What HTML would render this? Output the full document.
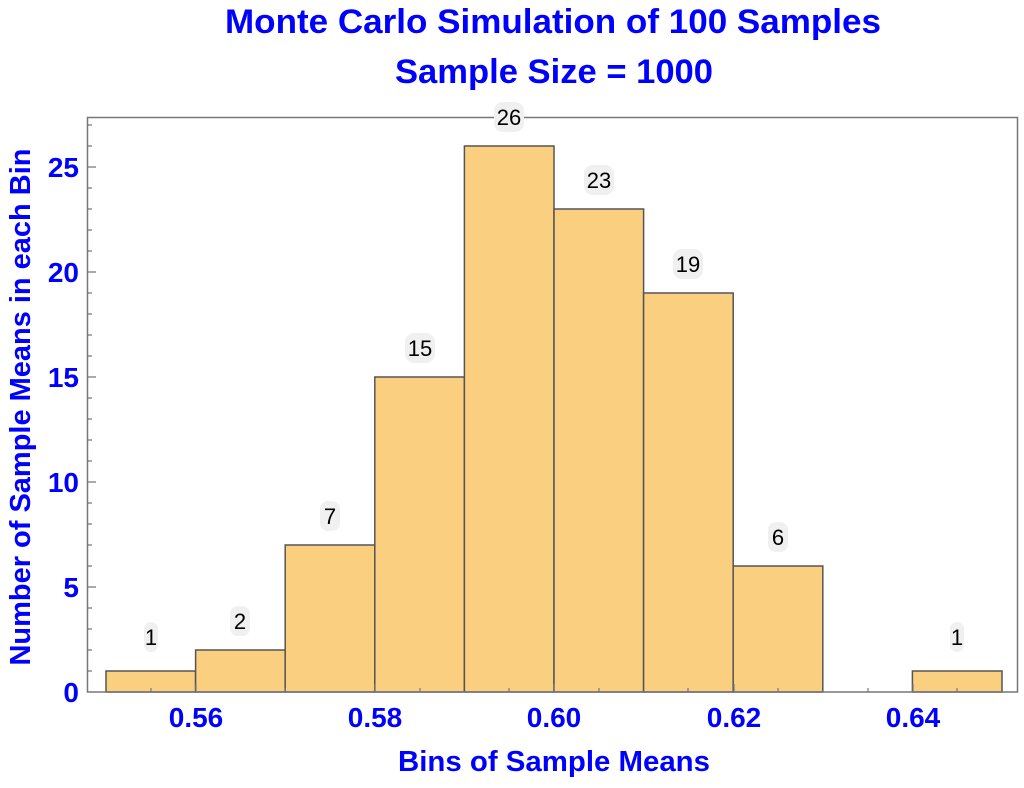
<!DOCTYPE html>
<html><head><meta charset="utf-8"><style>body{margin:0;background:#fff}</style></head><body>
<svg width="1024" height="783" xmlns="http://www.w3.org/2000/svg" font-family="Liberation Sans, sans-serif">
<text x="553" y="33" text-anchor="middle" font-size="34" font-weight="bold" fill="#0000ff" textLength="656" lengthAdjust="spacingAndGlyphs">Monte Carlo Simulation of 100 Samples</text>
<text x="554" y="83" text-anchor="middle" font-size="34" font-weight="bold" fill="#0000ff" textLength="318" lengthAdjust="spacingAndGlyphs">Sample Size = 1000</text>
<g fill="#fbcf80" stroke="#555" stroke-width="1.5">
<rect x="106" y="671" width="89.6" height="21"/>
<rect x="195.6" y="650" width="89.6" height="42"/>
<rect x="285.2" y="545" width="89.6" height="147"/>
<rect x="374.8" y="377" width="89.6" height="315"/>
<rect x="464.4" y="146" width="89.6" height="546"/>
<rect x="554" y="209" width="89.6" height="483"/>
<rect x="643.6" y="293" width="89.6" height="399"/>
<rect x="733.2" y="566" width="89.6" height="126"/>
<rect x="912.4" y="671" width="89.6" height="21"/>
</g>
<rect x="87.5" y="117.5" width="930" height="574.5" fill="none" stroke="#777" stroke-width="1.5"/>
<g stroke="#777" stroke-width="1.2">
<path d="M196 692v-8M375 692v-8M554 692v-8M734 692v-8M913 692v-8M151 692v-4M285 692v-4M420 692v-4M509 692v-4M599 692v-4M688 692v-4M778 692v-4M868 692v-4M957 692v-4"/>
<path d="M88 587h8M88 482h8M88 377h8M88 272h8M88 167h8"/>
<path d="M88 671h4M88 650h4M88 629h4M88 608h4M88 566h4M88 545h4M88 524h4M88 503h4M88 461h4M88 440h4M88 419h4M88 398h4M88 356h4M88 335h4M88 314h4M88 293h4M88 251h4M88 230h4M88 209h4M88 188h4M88 146h4M88 125h4"/>
</g>
<g font-size="28" font-weight="bold" fill="#0000ff" text-anchor="middle">
<text x="196" y="727">0.56</text><text x="375" y="727">0.58</text><text x="554" y="727">0.60</text><text x="734" y="727">0.62</text><text x="913" y="727">0.64</text>
</g>
<g font-size="28" font-weight="bold" fill="#0000ff" text-anchor="end">
<text x="79" y="702">0</text><text x="79" y="597">5</text><text x="79" y="492">10</text><text x="79" y="387">15</text><text x="79" y="282">20</text><text x="79" y="177">25</text>
</g>
<text x="554" y="771" text-anchor="middle" font-size="29" font-weight="bold" fill="#0000ff" textLength="312" lengthAdjust="spacingAndGlyphs">Bins of Sample Means</text>
<text transform="translate(30,407) rotate(-90)" text-anchor="middle" font-size="29" font-weight="bold" fill="#0000ff" textLength="517" lengthAdjust="spacingAndGlyphs">Number of Sample Means in each Bin</text>
<g fill="#f0f0f0">
<rect x="144" y="622" width="14" height="30" rx="7"/>
<rect x="230" y="606" width="20" height="30" rx="8"/>
<rect x="320" y="501" width="20" height="30" rx="8"/>
<rect x="405" y="333" width="30" height="30" rx="9"/>
<rect x="494" y="102" width="30" height="30" rx="9"/>
<rect x="584" y="165" width="30" height="30" rx="9"/>
<rect x="673" y="249" width="30" height="30" rx="9"/>
<rect x="768" y="522" width="20" height="30" rx="8"/>
<rect x="950" y="622" width="14" height="30" rx="7"/>
</g>
<g font-size="22" fill="#000" text-anchor="middle">
<text x="151" y="645">1</text><text x="240" y="629">2</text><text x="330" y="524">7</text><text x="420" y="356">15</text><text x="509" y="125">26</text><text x="599" y="188">23</text><text x="688" y="272">19</text><text x="778" y="545">6</text><text x="957" y="645">1</text>
</g>
</svg>
</body></html>
